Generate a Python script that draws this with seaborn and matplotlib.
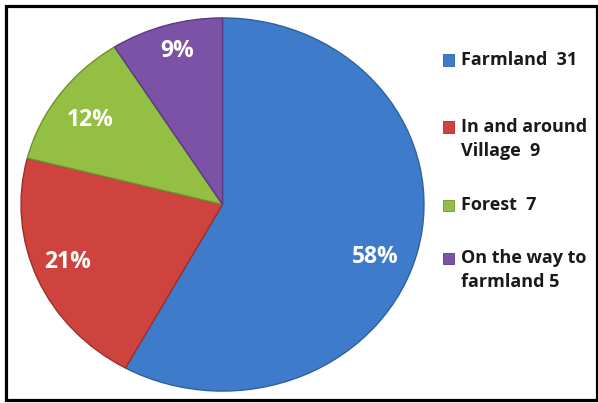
import matplotlib
matplotlib.use("Agg")
import matplotlib.pyplot as plt
import seaborn as sns
import numpy as np
from matplotlib.patches import Rectangle

# ---- data ----
categories = ["Farmland  31", "In and around\nVillage  9", "Forest  7", "On the way to\nfarmland 5"]
counts = [31, 9, 7, 5]
shares = [58, 21, 12, 9]          # percentages as shown on the slices
colors = ["#3E7CCB", "#CF433E", "#93C043", "#7C52A7"]
edge_colors = ["#2E5F9E", "#9E2F2B", "#6E9230", "#5A3A80"]

# label placement (polar: angle offset from slice middle in degrees, radius)
label_angle_shift = [-6.0, -1.5, 1.5, -1.0]
label_radius = [0.81, 0.83, 0.80, 0.85]

sns.set_theme(style="white")
plt.rcParams["font.family"] = ["Open Sans", "DejaVu Sans"]

W, H = 598, 403
fig = plt.figure(figsize=(W / 100, H / 100), dpi=100)
fig.patch.set_facecolor("white")

# pie axes (elliptical, as in the reference)
left, right, top, bottom = 20, 425, 17, 392
ax = fig.add_axes([left / W, 1 - bottom / H, (right - left) / W, (bottom - top) / H])
wedges, texts, autotexts = ax.pie(
    shares,
    colors=colors,
    startangle=90,
    counterclock=False,
    autopct="%1.0f%%",
    pctdistance=0.81,
    radius=1.0,
    wedgeprops=dict(linewidth=1.0),
    textprops=dict(color="white", fontsize=16.5, fontweight="bold"),
)
for w, ec, t, da, r in zip(wedges, edge_colors, autotexts, label_angle_shift, label_radius):
    w.set_edgecolor(ec)
    mid = np.deg2rad((w.theta1 + w.theta2) / 2 + da)
    t.set_position((r * np.cos(mid), r * np.sin(mid)))
ax.set_aspect("auto")
ax.set_xlim(-1.005, 1.005)
ax.set_ylim(-1.005, 1.005)
ax.axis("off")

# legend (manual, marker aligned with first line as in the reference)
legend_y = [60, 127, 205, 258]
line_gap = 24
for lab, col, ec, y in zip(categories, colors, edge_colors, legend_y):
    fig.patches.append(Rectangle((443 / W, 1 - (y + 5.5) / H), 11 / W, 11 / H,
                                 transform=fig.transFigure, facecolor=col,
                                 edgecolor=ec, linewidth=0.6))
    for i, line in enumerate(lab.split("\n")):
        fig.text(461 / W, 1 - (y + i * line_gap) / H, line, ha="left", va="center",
                 fontsize=13, fontweight="bold", color="#1a1a1a")

# outer frame
fig.patches.append(Rectangle((5.5 / W, 1 - 399.5 / H), 591.5 / W, 394 / H,
                             transform=fig.transFigure, fill=False,
                             edgecolor="black", linewidth=2.3))

fig.savefig("out.png", dpi=100)
